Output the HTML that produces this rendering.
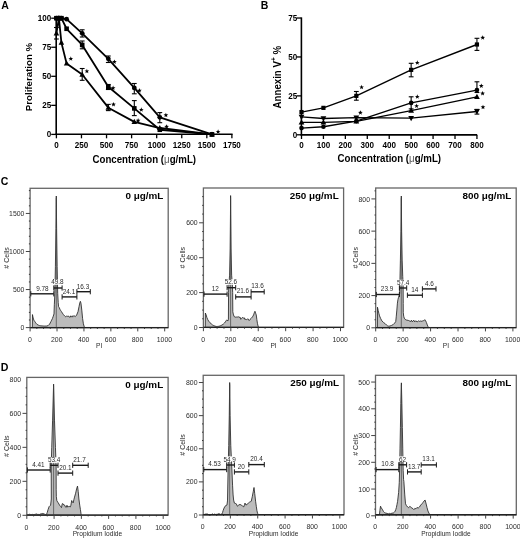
<!DOCTYPE html>
<html><head><meta charset="utf-8"><style>
html,body{margin:0;padding:0;background:#fff;width:520px;height:538px;overflow:hidden}
svg{display:block;filter:blur(0.3px);font-family:"Liberation Sans", sans-serif}
</style></head><body>
<svg width="520" height="538" viewBox="0 0 520 538">
<rect width="520" height="538" fill="#fff"/>
<text x="1.2" y="9.2" font-size="10.5" font-weight="bold" text-anchor="start" fill="#000">A</text>
<line x1="56.2" y1="17.6" x2="56.2" y2="135" stroke="#000" stroke-width="1.6"/>
<line x1="55.4" y1="134.2" x2="232.6" y2="134.2" stroke="#000" stroke-width="1.6"/>
<line x1="51.2" y1="134.4" x2="56.2" y2="134.4" stroke="#000" stroke-width="1.3"/>
<text x="51.3" y="137.2" font-size="8.1" font-weight="bold" text-anchor="end" fill="#000" transform="translate(0 137.2) scale(1 1.12) translate(0 -137.2)">0</text>
<line x1="51.2" y1="105.35" x2="56.2" y2="105.35" stroke="#000" stroke-width="1.3"/>
<text x="51.3" y="108.15" font-size="8.1" font-weight="bold" text-anchor="end" fill="#000" transform="translate(0 108.15) scale(1 1.12) translate(0 -108.15)">25</text>
<line x1="51.2" y1="76.3" x2="56.2" y2="76.3" stroke="#000" stroke-width="1.3"/>
<text x="51.3" y="79.1" font-size="8.1" font-weight="bold" text-anchor="end" fill="#000" transform="translate(0 79.1) scale(1 1.12) translate(0 -79.1)">50</text>
<line x1="51.2" y1="47.25" x2="56.2" y2="47.25" stroke="#000" stroke-width="1.3"/>
<text x="51.3" y="50.05" font-size="8.1" font-weight="bold" text-anchor="end" fill="#000" transform="translate(0 50.05) scale(1 1.12) translate(0 -50.05)">75</text>
<line x1="51.2" y1="18.2" x2="56.2" y2="18.2" stroke="#000" stroke-width="1.3"/>
<text x="51.3" y="21" font-size="8.1" font-weight="bold" text-anchor="end" fill="#000" transform="translate(0 21) scale(1 1.12) translate(0 -21)">100</text>
<line x1="56.4" y1="134.2" x2="56.4" y2="138.3" stroke="#000" stroke-width="1.3"/>
<text x="56.4" y="147.7" font-size="8.1" font-weight="bold" text-anchor="middle" fill="#000" transform="translate(0 147.7) scale(1 1.12) translate(0 -147.7)">0</text>
<line x1="81.47" y1="134.2" x2="81.47" y2="138.3" stroke="#000" stroke-width="1.3"/>
<text x="81.47" y="147.7" font-size="8.1" font-weight="bold" text-anchor="middle" fill="#000" transform="translate(0 147.7) scale(1 1.12) translate(0 -147.7)">250</text>
<line x1="106.54" y1="134.2" x2="106.54" y2="138.3" stroke="#000" stroke-width="1.3"/>
<text x="106.54" y="147.7" font-size="8.1" font-weight="bold" text-anchor="middle" fill="#000" transform="translate(0 147.7) scale(1 1.12) translate(0 -147.7)">500</text>
<line x1="131.61" y1="134.2" x2="131.61" y2="138.3" stroke="#000" stroke-width="1.3"/>
<text x="131.61" y="147.7" font-size="8.1" font-weight="bold" text-anchor="middle" fill="#000" transform="translate(0 147.7) scale(1 1.12) translate(0 -147.7)">750</text>
<line x1="156.68" y1="134.2" x2="156.68" y2="138.3" stroke="#000" stroke-width="1.3"/>
<text x="156.68" y="147.7" font-size="8.1" font-weight="bold" text-anchor="middle" fill="#000" transform="translate(0 147.7) scale(1 1.12) translate(0 -147.7)">1000</text>
<line x1="181.75" y1="134.2" x2="181.75" y2="138.3" stroke="#000" stroke-width="1.3"/>
<text x="181.75" y="147.7" font-size="8.1" font-weight="bold" text-anchor="middle" fill="#000" transform="translate(0 147.7) scale(1 1.12) translate(0 -147.7)">1250</text>
<line x1="206.82" y1="134.2" x2="206.82" y2="138.3" stroke="#000" stroke-width="1.3"/>
<text x="206.82" y="147.7" font-size="8.1" font-weight="bold" text-anchor="middle" fill="#000" transform="translate(0 147.7) scale(1 1.12) translate(0 -147.7)">1500</text>
<line x1="231.89" y1="134.2" x2="231.89" y2="138.3" stroke="#000" stroke-width="1.3"/>
<text x="231.89" y="147.7" font-size="8.1" font-weight="bold" text-anchor="middle" fill="#000" transform="translate(0 147.7) scale(1 1.12) translate(0 -147.7)">1750</text>
<text x="144.3" y="162.9" font-size="9.7" font-weight="bold" text-anchor="middle" fill="#000" transform="translate(0 162.9) scale(1 1.07) translate(0 -162.9)">Concentration (<tspan font-weight="normal" fill="#555">μ</tspan>g/mL)</text>
<text x="32.3" y="77" font-size="9.7" font-weight="bold" text-anchor="middle" fill="#000" transform="rotate(-90 32.3 77)">Proliferation %</text>
<polyline points="56.4,18.2 58.9,18.2 61.4,18.2 66.6,19.13 82.2,33.31 108.3,58.87 134.3,87.92 159.8,117.32 212,134.4" fill="none" stroke="#000" stroke-width="1.8" stroke-linejoin="round"/>
<circle cx="56.4" cy="18.2" r="2.42" fill="#000"/>
<circle cx="58.9" cy="18.2" r="2.42" fill="#000"/>
<circle cx="61.4" cy="18.2" r="2.42" fill="#000"/>
<circle cx="66.6" cy="19.13" r="2.42" fill="#000"/>
<circle cx="82.2" cy="33.31" r="2.42" fill="#000"/>
<circle cx="108.3" cy="58.87" r="2.42" fill="#000"/>
<circle cx="134.3" cy="87.92" r="2.42" fill="#000"/>
<circle cx="159.8" cy="117.32" r="2.42" fill="#000"/>
<circle cx="212" cy="134.4" r="2.42" fill="#000"/>
<polyline points="56.4,18.2 58.9,18.2 61.4,18.2 66.6,28.77 82.2,44.93 108.3,86.76 134.3,108.37 159.8,129.75 212,134.4" fill="none" stroke="#000" stroke-width="1.8" stroke-linejoin="round"/>
<rect x="54.1" y="15.9" width="4.6" height="4.6" fill="#000"/>
<rect x="56.6" y="15.9" width="4.6" height="4.6" fill="#000"/>
<rect x="59.1" y="15.9" width="4.6" height="4.6" fill="#000"/>
<rect x="64.3" y="26.47" width="4.6" height="4.6" fill="#000"/>
<rect x="79.9" y="42.63" width="4.6" height="4.6" fill="#000"/>
<rect x="106" y="84.46" width="4.6" height="4.6" fill="#000"/>
<rect x="132" y="106.07" width="4.6" height="4.6" fill="#000"/>
<rect x="157.5" y="127.45" width="4.6" height="4.6" fill="#000"/>
<rect x="209.7" y="132.1" width="4.6" height="4.6" fill="#000"/>
<polyline points="56.4,33.31 58.9,18.2 61.4,42.6 66.6,63.52 82.2,74.56 108.3,107.67 134.3,121.85 159.8,128.01 212,134.4" fill="none" stroke="#000" stroke-width="1.8" stroke-linejoin="round"/>
<polygon points="56.4,30.32 53.64,35.38 59.16,35.38" fill="#000"/>
<polygon points="58.9,15.21 56.14,20.27 61.66,20.27" fill="#000"/>
<polygon points="61.4,39.61 58.64,44.67 64.16,44.67" fill="#000"/>
<polygon points="66.6,60.53 63.84,65.59 69.36,65.59" fill="#000"/>
<polygon points="82.2,71.57 79.44,76.63 84.96,76.63" fill="#000"/>
<polygon points="108.3,104.68 105.54,109.74 111.06,109.74" fill="#000"/>
<polygon points="134.3,118.86 131.54,123.92 137.06,123.92" fill="#000"/>
<polygon points="159.8,125.02 157.04,130.08 162.56,130.08" fill="#000"/>
<polygon points="212,131.41 209.24,136.47 214.76,136.47" fill="#000"/>
<line x1="82.2" y1="29.8" x2="82.2" y2="37" stroke="#000" stroke-width="1.1"/>
<line x1="79.8" y1="29.8" x2="84.6" y2="29.8" stroke="#000" stroke-width="1.1"/>
<line x1="79.8" y1="37" x2="84.6" y2="37" stroke="#000" stroke-width="1.1"/>
<line x1="108.3" y1="56" x2="108.3" y2="62.5" stroke="#000" stroke-width="1.1"/>
<line x1="105.9" y1="56" x2="110.7" y2="56" stroke="#000" stroke-width="1.1"/>
<line x1="105.9" y1="62.5" x2="110.7" y2="62.5" stroke="#000" stroke-width="1.1"/>
<line x1="134.3" y1="83.5" x2="134.3" y2="93.8" stroke="#000" stroke-width="1.1"/>
<line x1="131.9" y1="83.5" x2="136.7" y2="83.5" stroke="#000" stroke-width="1.1"/>
<line x1="131.9" y1="93.8" x2="136.7" y2="93.8" stroke="#000" stroke-width="1.1"/>
<line x1="159.8" y1="112.6" x2="159.8" y2="122.7" stroke="#000" stroke-width="1.1"/>
<line x1="157.4" y1="112.6" x2="162.2" y2="112.6" stroke="#000" stroke-width="1.1"/>
<line x1="157.4" y1="122.7" x2="162.2" y2="122.7" stroke="#000" stroke-width="1.1"/>
<line x1="82.2" y1="41" x2="82.2" y2="48.8" stroke="#000" stroke-width="1.1"/>
<line x1="79.8" y1="41" x2="84.6" y2="41" stroke="#000" stroke-width="1.1"/>
<line x1="79.8" y1="48.8" x2="84.6" y2="48.8" stroke="#000" stroke-width="1.1"/>
<line x1="134.3" y1="100.6" x2="134.3" y2="115.6" stroke="#000" stroke-width="1.1"/>
<line x1="131.9" y1="100.6" x2="136.7" y2="100.6" stroke="#000" stroke-width="1.1"/>
<line x1="131.9" y1="115.6" x2="136.7" y2="115.6" stroke="#000" stroke-width="1.1"/>
<line x1="108.3" y1="84.5" x2="108.3" y2="89.5" stroke="#000" stroke-width="1.1"/>
<line x1="105.9" y1="84.5" x2="110.7" y2="84.5" stroke="#000" stroke-width="1.1"/>
<line x1="105.9" y1="89.5" x2="110.7" y2="89.5" stroke="#000" stroke-width="1.1"/>
<line x1="82.2" y1="68.5" x2="82.2" y2="80.3" stroke="#000" stroke-width="1.1"/>
<line x1="79.8" y1="68.5" x2="84.6" y2="68.5" stroke="#000" stroke-width="1.1"/>
<line x1="79.8" y1="80.3" x2="84.6" y2="80.3" stroke="#000" stroke-width="1.1"/>
<line x1="108.3" y1="104.4" x2="108.3" y2="110.6" stroke="#000" stroke-width="1.1"/>
<line x1="105.9" y1="104.4" x2="110.7" y2="104.4" stroke="#000" stroke-width="1.1"/>
<line x1="105.9" y1="110.6" x2="110.7" y2="110.6" stroke="#000" stroke-width="1.1"/>
<line x1="56.4" y1="27.5" x2="56.4" y2="39" stroke="#000" stroke-width="1.1"/>
<line x1="54" y1="27.5" x2="58.8" y2="27.5" stroke="#000" stroke-width="1.1"/>
<line x1="54" y1="39" x2="58.8" y2="39" stroke="#000" stroke-width="1.1"/>
<polygon points="114.4,59.4 115.02,61.05 116.78,61.13 115.4,62.22 115.87,63.92 114.4,62.95 112.93,63.92 113.4,62.22 112.02,61.13 113.78,61.05" fill="#000"/>
<polygon points="139.4,88.1 140.02,89.75 141.78,89.83 140.4,90.92 140.87,92.62 139.4,91.65 137.93,92.62 138.4,90.92 137.02,89.83 138.78,89.75" fill="#000"/>
<polygon points="165.9,112.7 166.52,114.35 168.28,114.43 166.9,115.52 167.37,117.22 165.9,116.25 164.43,117.22 164.9,115.52 163.52,114.43 165.28,114.35" fill="#000"/>
<polygon points="218.1,129.3 218.72,130.95 220.48,131.03 219.1,132.12 219.57,133.82 218.1,132.85 216.63,133.82 217.1,132.12 215.72,131.03 217.48,130.95" fill="#000"/>
<polygon points="113.1,85.6 113.72,87.25 115.48,87.33 114.1,88.42 114.57,90.12 113.1,89.15 111.63,90.12 112.1,88.42 110.72,87.33 112.48,87.25" fill="#000"/>
<polygon points="141.3,107.3 141.92,108.95 143.68,109.03 142.3,110.12 142.77,111.82 141.3,110.85 139.83,111.82 140.3,110.12 138.92,109.03 140.68,108.95" fill="#000"/>
<polygon points="70.8,56.3 71.42,57.95 73.18,58.03 71.8,59.12 72.27,60.82 70.8,59.85 69.33,60.82 69.8,59.12 68.42,58.03 70.18,57.95" fill="#000"/>
<polygon points="86.9,68.8 87.52,70.45 89.28,70.53 87.9,71.62 88.37,73.32 86.9,72.35 85.43,73.32 85.9,71.62 84.52,70.53 86.28,70.45" fill="#000"/>
<polygon points="113.5,101.9 114.12,103.55 115.88,103.63 114.5,104.72 114.97,106.42 113.5,105.45 112.03,106.42 112.5,104.72 111.12,103.63 112.88,103.55" fill="#000"/>
<polygon points="138.1,118.1 138.72,119.75 140.48,119.83 139.1,120.92 139.57,122.62 138.1,121.65 136.63,122.62 137.1,120.92 135.72,119.83 137.48,119.75" fill="#000"/>
<polygon points="166.6,124.2 167.22,125.85 168.98,125.93 167.6,127.02 168.07,128.72 166.6,127.75 165.13,128.72 165.6,127.02 164.22,125.93 165.98,125.85" fill="#000"/>
<text x="260.7" y="9.2" font-size="10.5" font-weight="bold" text-anchor="start" fill="#000">B</text>
<line x1="301.4" y1="17.4" x2="301.4" y2="135.5" stroke="#000" stroke-width="1.6"/>
<line x1="300.6" y1="134.9" x2="477.2" y2="134.9" stroke="#000" stroke-width="1.6"/>
<line x1="296.6" y1="134.8" x2="301.4" y2="134.8" stroke="#000" stroke-width="1.3"/>
<text x="297.2" y="137.6" font-size="8.1" font-weight="bold" text-anchor="end" fill="#000" transform="translate(0 137.6) scale(1 1.12) translate(0 -137.6)">0</text>
<line x1="296.6" y1="95.88" x2="301.4" y2="95.88" stroke="#000" stroke-width="1.3"/>
<text x="297.2" y="98.68" font-size="8.1" font-weight="bold" text-anchor="end" fill="#000" transform="translate(0 98.68) scale(1 1.12) translate(0 -98.68)">25</text>
<line x1="296.6" y1="56.95" x2="301.4" y2="56.95" stroke="#000" stroke-width="1.3"/>
<text x="297.2" y="59.75" font-size="8.1" font-weight="bold" text-anchor="end" fill="#000" transform="translate(0 59.75) scale(1 1.12) translate(0 -59.75)">50</text>
<line x1="296.6" y1="18.03" x2="301.4" y2="18.03" stroke="#000" stroke-width="1.3"/>
<text x="297.2" y="20.83" font-size="8.1" font-weight="bold" text-anchor="end" fill="#000" transform="translate(0 20.83) scale(1 1.12) translate(0 -20.83)">75</text>
<line x1="301.5" y1="134.9" x2="301.5" y2="139" stroke="#000" stroke-width="1.3"/>
<text x="301.5" y="148" font-size="8.1" font-weight="bold" text-anchor="middle" fill="#000" transform="translate(0 148) scale(1 1.12) translate(0 -148)">0</text>
<line x1="323.43" y1="134.9" x2="323.43" y2="139" stroke="#000" stroke-width="1.3"/>
<text x="323.43" y="148" font-size="8.1" font-weight="bold" text-anchor="middle" fill="#000" transform="translate(0 148) scale(1 1.12) translate(0 -148)">100</text>
<line x1="345.36" y1="134.9" x2="345.36" y2="139" stroke="#000" stroke-width="1.3"/>
<text x="345.36" y="148" font-size="8.1" font-weight="bold" text-anchor="middle" fill="#000" transform="translate(0 148) scale(1 1.12) translate(0 -148)">200</text>
<line x1="367.29" y1="134.9" x2="367.29" y2="139" stroke="#000" stroke-width="1.3"/>
<text x="367.29" y="148" font-size="8.1" font-weight="bold" text-anchor="middle" fill="#000" transform="translate(0 148) scale(1 1.12) translate(0 -148)">300</text>
<line x1="389.22" y1="134.9" x2="389.22" y2="139" stroke="#000" stroke-width="1.3"/>
<text x="389.22" y="148" font-size="8.1" font-weight="bold" text-anchor="middle" fill="#000" transform="translate(0 148) scale(1 1.12) translate(0 -148)">400</text>
<line x1="411.15" y1="134.9" x2="411.15" y2="139" stroke="#000" stroke-width="1.3"/>
<text x="411.15" y="148" font-size="8.1" font-weight="bold" text-anchor="middle" fill="#000" transform="translate(0 148) scale(1 1.12) translate(0 -148)">500</text>
<line x1="433.08" y1="134.9" x2="433.08" y2="139" stroke="#000" stroke-width="1.3"/>
<text x="433.08" y="148" font-size="8.1" font-weight="bold" text-anchor="middle" fill="#000" transform="translate(0 148) scale(1 1.12) translate(0 -148)">600</text>
<line x1="455.01" y1="134.9" x2="455.01" y2="139" stroke="#000" stroke-width="1.3"/>
<text x="455.01" y="148" font-size="8.1" font-weight="bold" text-anchor="middle" fill="#000" transform="translate(0 148) scale(1 1.12) translate(0 -148)">700</text>
<line x1="476.94" y1="134.9" x2="476.94" y2="139" stroke="#000" stroke-width="1.3"/>
<text x="476.94" y="148" font-size="8.1" font-weight="bold" text-anchor="middle" fill="#000" transform="translate(0 148) scale(1 1.12) translate(0 -148)">800</text>
<text x="389.3" y="161.8" font-size="9.7" font-weight="bold" text-anchor="middle" fill="#000" transform="translate(0 161.8) scale(1 1.07) translate(0 -161.8)">Concentration (<tspan font-weight="normal" fill="#555">μ</tspan>g/mL)</text>
<text x="280.9" y="77.2" font-size="10.2" font-weight="bold" text-anchor="middle" fill="#000" transform="translate(280.9 77.2) rotate(-90) scale(0.95 1) translate(-280.9 -77.2)">Annexin V<tspan font-size="6.8" dy="-4.6">+</tspan><tspan dy="4.6"> %</tspan></text>
<polyline points="301.5,116.89 323.43,118.45 356.32,117.67 411.15,118.14 476.94,111.45" fill="none" stroke="#000" stroke-width="1.4" stroke-linejoin="round"/>
<polygon points="301.5,120.01 298.62,114.73 304.38,114.73" fill="#000"/>
<polygon points="323.43,121.57 320.55,116.29 326.31,116.29" fill="#000"/>
<polygon points="356.32,120.79 353.44,115.51 359.2,115.51" fill="#000"/>
<polygon points="411.15,121.26 408.27,115.98 414.03,115.98" fill="#000"/>
<polygon points="476.94,114.57 474.06,109.29 479.82,109.29" fill="#000"/>
<polyline points="301.5,122.34 323.43,122.34 356.32,121.41 411.15,110.67 476.94,96.81" fill="none" stroke="#000" stroke-width="1.4" stroke-linejoin="round"/>
<polygon points="301.5,119.22 298.62,124.5 304.38,124.5" fill="#000"/>
<polygon points="323.43,119.22 320.55,124.5 326.31,124.5" fill="#000"/>
<polygon points="356.32,118.29 353.44,123.57 359.2,123.57" fill="#000"/>
<polygon points="411.15,107.55 408.27,112.83 414.03,112.83" fill="#000"/>
<polygon points="476.94,93.69 474.06,98.97 479.82,98.97" fill="#000"/>
<polyline points="301.5,128.1 323.43,126.7 356.32,121.1 411.15,102.88 476.94,90.11" fill="none" stroke="#000" stroke-width="1.4" stroke-linejoin="round"/>
<circle cx="301.5" cy="128.1" r="2.31" fill="#000"/>
<circle cx="323.43" cy="126.7" r="2.31" fill="#000"/>
<circle cx="356.32" cy="121.1" r="2.31" fill="#000"/>
<circle cx="411.15" cy="102.88" r="2.31" fill="#000"/>
<circle cx="476.94" cy="90.11" r="2.31" fill="#000"/>
<polyline points="301.5,112.07 323.43,107.86 356.32,95.88 411.15,69.87 476.94,44.49" fill="none" stroke="#000" stroke-width="1.4" stroke-linejoin="round"/>
<rect x="299.4" y="109.97" width="4.2" height="4.2" fill="#000"/>
<rect x="321.33" y="105.76" width="4.2" height="4.2" fill="#000"/>
<rect x="354.22" y="93.78" width="4.2" height="4.2" fill="#000"/>
<rect x="409.05" y="67.77" width="4.2" height="4.2" fill="#000"/>
<rect x="474.84" y="42.39" width="4.2" height="4.2" fill="#000"/>
<line x1="356.32" y1="91.5" x2="356.32" y2="100.2" stroke="#000" stroke-width="1.1"/>
<line x1="353.93" y1="91.5" x2="358.72" y2="91.5" stroke="#000" stroke-width="1.1"/>
<line x1="353.93" y1="100.2" x2="358.72" y2="100.2" stroke="#000" stroke-width="1.1"/>
<line x1="411.15" y1="63.3" x2="411.15" y2="76.8" stroke="#000" stroke-width="1.1"/>
<line x1="408.75" y1="63.3" x2="413.55" y2="63.3" stroke="#000" stroke-width="1.1"/>
<line x1="408.75" y1="76.8" x2="413.55" y2="76.8" stroke="#000" stroke-width="1.1"/>
<line x1="476.94" y1="38.3" x2="476.94" y2="50.4" stroke="#000" stroke-width="1.1"/>
<line x1="474.54" y1="38.3" x2="479.34" y2="38.3" stroke="#000" stroke-width="1.1"/>
<line x1="474.54" y1="50.4" x2="479.34" y2="50.4" stroke="#000" stroke-width="1.1"/>
<line x1="411.15" y1="96.8" x2="411.15" y2="108.9" stroke="#000" stroke-width="1.1"/>
<line x1="408.75" y1="96.8" x2="413.55" y2="96.8" stroke="#000" stroke-width="1.1"/>
<line x1="408.75" y1="108.9" x2="413.55" y2="108.9" stroke="#000" stroke-width="1.1"/>
<line x1="476.94" y1="81.8" x2="476.94" y2="92.5" stroke="#000" stroke-width="1.1"/>
<line x1="474.54" y1="81.8" x2="479.34" y2="81.8" stroke="#000" stroke-width="1.1"/>
<line x1="474.54" y1="92.5" x2="479.34" y2="92.5" stroke="#000" stroke-width="1.1"/>
<line x1="476.94" y1="109.4" x2="476.94" y2="114.1" stroke="#000" stroke-width="1.1"/>
<line x1="474.54" y1="109.4" x2="479.34" y2="109.4" stroke="#000" stroke-width="1.1"/>
<line x1="474.54" y1="114.1" x2="479.34" y2="114.1" stroke="#000" stroke-width="1.1"/>
<polygon points="361.6,84.8 362.22,86.45 363.98,86.53 362.6,87.62 363.07,89.32 361.6,88.35 360.13,89.32 360.6,87.62 359.22,86.53 360.98,86.45" fill="#000"/>
<polygon points="417.3,60.3 417.92,61.95 419.68,62.03 418.3,63.12 418.77,64.82 417.3,63.85 415.83,64.82 416.3,63.12 414.92,62.03 416.68,61.95" fill="#000"/>
<polygon points="482.7,35.2 483.32,36.85 485.08,36.93 483.7,38.02 484.17,39.72 482.7,38.75 481.23,39.72 481.7,38.02 480.32,36.93 482.08,36.85" fill="#000"/>
<polygon points="417.3,94.3 417.92,95.95 419.68,96.03 418.3,97.12 418.77,98.82 417.3,97.85 415.83,98.82 416.3,97.12 414.92,96.03 416.68,95.95" fill="#000"/>
<polygon points="481.3,83.4 481.92,85.05 483.68,85.13 482.3,86.22 482.77,87.92 481.3,86.95 479.83,87.92 480.3,86.22 478.92,85.13 480.68,85.05" fill="#000"/>
<polygon points="416.6,103.5 417.22,105.15 418.98,105.23 417.6,106.32 418.07,108.02 416.6,107.05 415.13,108.02 415.6,106.32 414.22,105.23 415.98,105.15" fill="#000"/>
<polygon points="482.6,90.9 483.22,92.55 484.98,92.63 483.6,93.72 484.07,95.42 482.6,94.45 481.13,95.42 481.6,93.72 480.22,92.63 481.98,92.55" fill="#000"/>
<polygon points="483,104.7 483.62,106.35 485.38,106.43 484,107.52 484.47,109.22 483,108.25 481.53,109.22 482,107.52 480.62,106.43 482.38,106.35" fill="#000"/>
<polygon points="360.4,110.2 361.02,111.85 362.78,111.93 361.4,113.02 361.87,114.72 360.4,113.75 358.93,114.72 359.4,113.02 358.02,111.93 359.78,111.85" fill="#000"/>
<polygon points="32.32,327.6 32.32,327.6 32.46,314.59 32.93,316.95 33.47,319.08 34.14,320.6 34.81,321.51 35.35,322.27 36.1,323.34 37.1,324.4 38.45,325.16 39.52,325.62 40.87,325.85 43.1,326 44.91,326.08 46.92,326 48.27,325.47 49.62,324.1 50.96,321.51 51.64,320.14 52.44,318.47 53.25,316.19 53.99,313.9 54.33,304.77 54.87,293.36 55.4,266.72 55.94,228.67 56.29,196.02 56.62,228.67 57.15,266.72 57.69,293.36 58.2,302.49 58.59,306.67 59.17,307.43 59.98,309.34 60.79,310.71 61.39,311.47 62.4,313.14 63.48,314.66 64.89,316.19 65.64,316.69 66.38,316.16 67.13,316.5 67.87,316.1 68.62,316.09 69.36,317.14 70.11,317.26 70.85,315.79 71.6,316.87 72.35,316.94 73.09,315.58 73.84,316.57 74.58,315.92 75.33,316.57 76.67,315.04 78.02,311.62 79.09,306.29 79.9,302.49 80.4,301.35 80.98,303.25 81.79,310.1 82.59,318.47 83.4,323.8 84.48,327.6 84.48,327.6" fill="#bcbcbc" stroke="#262626" stroke-width="0.85" stroke-linejoin="round"/>
<line x1="56.29" y1="198.02" x2="56.29" y2="327.6" stroke="#444" stroke-width="0.7"/>
<rect x="30.1" y="188.3" width="138.1" height="139.3" fill="none" stroke="#666" stroke-width="1.3"/>
<line x1="30.1" y1="327.6" x2="168.2" y2="327.6" stroke="#222" stroke-width="1.4"/>
<line x1="25.8" y1="327.6" x2="30.1" y2="327.6" stroke="#444" stroke-width="1.0"/>
<text x="24.4" y="330.2" font-size="6.9" font-weight="normal" text-anchor="end" fill="#2b2b2b">0</text>
<line x1="28.9" y1="319.99" x2="30.1" y2="319.99" stroke="#333" stroke-width="1.0"/>
<line x1="28.9" y1="312.38" x2="30.1" y2="312.38" stroke="#333" stroke-width="1.0"/>
<line x1="28.9" y1="304.77" x2="30.1" y2="304.77" stroke="#333" stroke-width="1.0"/>
<line x1="28.9" y1="297.16" x2="30.1" y2="297.16" stroke="#333" stroke-width="1.0"/>
<line x1="25.8" y1="289.55" x2="30.1" y2="289.55" stroke="#444" stroke-width="1.0"/>
<text x="24.4" y="292.15" font-size="6.9" font-weight="normal" text-anchor="end" fill="#2b2b2b">500</text>
<line x1="28.9" y1="281.94" x2="30.1" y2="281.94" stroke="#333" stroke-width="1.0"/>
<line x1="28.9" y1="274.33" x2="30.1" y2="274.33" stroke="#333" stroke-width="1.0"/>
<line x1="28.9" y1="266.72" x2="30.1" y2="266.72" stroke="#333" stroke-width="1.0"/>
<line x1="28.9" y1="259.11" x2="30.1" y2="259.11" stroke="#333" stroke-width="1.0"/>
<line x1="25.8" y1="251.5" x2="30.1" y2="251.5" stroke="#444" stroke-width="1.0"/>
<text x="24.4" y="254.1" font-size="6.9" font-weight="normal" text-anchor="end" fill="#2b2b2b">1000</text>
<line x1="28.9" y1="243.89" x2="30.1" y2="243.89" stroke="#333" stroke-width="1.0"/>
<line x1="28.9" y1="236.28" x2="30.1" y2="236.28" stroke="#333" stroke-width="1.0"/>
<line x1="28.9" y1="228.67" x2="30.1" y2="228.67" stroke="#333" stroke-width="1.0"/>
<line x1="28.9" y1="221.06" x2="30.1" y2="221.06" stroke="#333" stroke-width="1.0"/>
<line x1="25.8" y1="213.45" x2="30.1" y2="213.45" stroke="#444" stroke-width="1.0"/>
<text x="24.4" y="216.05" font-size="6.9" font-weight="normal" text-anchor="end" fill="#2b2b2b">1500</text>
<line x1="28.9" y1="205.84" x2="30.1" y2="205.84" stroke="#333" stroke-width="1.0"/>
<line x1="28.9" y1="198.23" x2="30.1" y2="198.23" stroke="#333" stroke-width="1.0"/>
<line x1="28.9" y1="190.62" x2="30.1" y2="190.62" stroke="#333" stroke-width="1.0"/>
<line x1="30.1" y1="327.6" x2="30.1" y2="331.4" stroke="#444" stroke-width="1.0"/>
<text x="29.8" y="342.1" font-size="6.9" font-weight="normal" text-anchor="middle" fill="#2b2b2b">0</text>
<line x1="36.83" y1="327.6" x2="36.83" y2="328.9" stroke="#333" stroke-width="1.0"/>
<line x1="43.56" y1="327.6" x2="43.56" y2="328.9" stroke="#333" stroke-width="1.0"/>
<line x1="50.29" y1="327.6" x2="50.29" y2="328.9" stroke="#333" stroke-width="1.0"/>
<line x1="57.02" y1="327.6" x2="57.02" y2="331.4" stroke="#444" stroke-width="1.0"/>
<text x="56.72" y="342.1" font-size="6.9" font-weight="normal" text-anchor="middle" fill="#2b2b2b">200</text>
<line x1="63.75" y1="327.6" x2="63.75" y2="328.9" stroke="#333" stroke-width="1.0"/>
<line x1="70.48" y1="327.6" x2="70.48" y2="328.9" stroke="#333" stroke-width="1.0"/>
<line x1="77.21" y1="327.6" x2="77.21" y2="328.9" stroke="#333" stroke-width="1.0"/>
<line x1="83.94" y1="327.6" x2="83.94" y2="331.4" stroke="#444" stroke-width="1.0"/>
<text x="83.64" y="342.1" font-size="6.9" font-weight="normal" text-anchor="middle" fill="#2b2b2b">400</text>
<line x1="90.67" y1="327.6" x2="90.67" y2="328.9" stroke="#333" stroke-width="1.0"/>
<line x1="97.4" y1="327.6" x2="97.4" y2="328.9" stroke="#333" stroke-width="1.0"/>
<line x1="104.13" y1="327.6" x2="104.13" y2="328.9" stroke="#333" stroke-width="1.0"/>
<line x1="110.86" y1="327.6" x2="110.86" y2="331.4" stroke="#444" stroke-width="1.0"/>
<text x="110.56" y="342.1" font-size="6.9" font-weight="normal" text-anchor="middle" fill="#2b2b2b">600</text>
<line x1="117.59" y1="327.6" x2="117.59" y2="328.9" stroke="#333" stroke-width="1.0"/>
<line x1="124.32" y1="327.6" x2="124.32" y2="328.9" stroke="#333" stroke-width="1.0"/>
<line x1="131.05" y1="327.6" x2="131.05" y2="328.9" stroke="#333" stroke-width="1.0"/>
<line x1="137.78" y1="327.6" x2="137.78" y2="331.4" stroke="#444" stroke-width="1.0"/>
<text x="137.48" y="342.1" font-size="6.9" font-weight="normal" text-anchor="middle" fill="#2b2b2b">800</text>
<line x1="144.51" y1="327.6" x2="144.51" y2="328.9" stroke="#333" stroke-width="1.0"/>
<line x1="151.24" y1="327.6" x2="151.24" y2="328.9" stroke="#333" stroke-width="1.0"/>
<line x1="157.97" y1="327.6" x2="157.97" y2="328.9" stroke="#333" stroke-width="1.0"/>
<line x1="164.7" y1="327.6" x2="164.7" y2="331.4" stroke="#444" stroke-width="1.0"/>
<text x="164.4" y="342.1" font-size="6.9" font-weight="normal" text-anchor="middle" fill="#2b2b2b">1000</text>
<rect x="35.77" y="285.5" width="13.26" height="5.6" fill="#fff"/>
<rect x="50.77" y="279.2" width="13.26" height="5.6" fill="#fff"/>
<rect x="62.37" y="288.4" width="13.26" height="5.6" fill="#fff"/>
<rect x="76.37" y="283.6" width="13.26" height="5.6" fill="#fff"/>
<line x1="30.8" y1="293.8" x2="53.8" y2="293.8" stroke="#1a1a1a" stroke-width="1.4"/>
<line x1="30.8" y1="291.2" x2="30.8" y2="296.4" stroke="#1a1a1a" stroke-width="1.0"/>
<line x1="53.8" y1="291.2" x2="53.8" y2="296.4" stroke="#1a1a1a" stroke-width="1.0"/>
<text x="42.4" y="290.6" font-size="6.4" font-weight="normal" text-anchor="middle" fill="#2b2b2b">9.78</text>
<line x1="53.8" y1="288" x2="62.1" y2="288" stroke="#1a1a1a" stroke-width="1.4"/>
<line x1="53.8" y1="285.4" x2="53.8" y2="290.6" stroke="#1a1a1a" stroke-width="1.0"/>
<line x1="62.1" y1="285.4" x2="62.1" y2="290.6" stroke="#1a1a1a" stroke-width="1.0"/>
<text x="57.4" y="284.3" font-size="6.4" font-weight="normal" text-anchor="middle" fill="#2b2b2b">49.8</text>
<line x1="62.1" y1="296.9" x2="76.9" y2="296.9" stroke="#1a1a1a" stroke-width="1.4"/>
<line x1="62.1" y1="294.3" x2="62.1" y2="299.5" stroke="#1a1a1a" stroke-width="1.0"/>
<line x1="76.9" y1="294.3" x2="76.9" y2="299.5" stroke="#1a1a1a" stroke-width="1.0"/>
<text x="69" y="293.5" font-size="6.4" font-weight="normal" text-anchor="middle" fill="#2b2b2b">24.1</text>
<line x1="76.9" y1="291.7" x2="90.3" y2="291.7" stroke="#1a1a1a" stroke-width="1.4"/>
<line x1="76.9" y1="289.1" x2="76.9" y2="294.3" stroke="#1a1a1a" stroke-width="1.0"/>
<line x1="90.3" y1="289.1" x2="90.3" y2="294.3" stroke="#1a1a1a" stroke-width="1.0"/>
<text x="83" y="288.7" font-size="6.4" font-weight="normal" text-anchor="middle" fill="#2b2b2b">16.3</text>
<text x="163.3" y="198.9" font-size="9.9" font-weight="bold" text-anchor="end" fill="#000">0 μg/mL</text>
<text x="8.9" y="257.95" font-size="7" font-weight="normal" text-anchor="middle" fill="#2b2b2b" transform="rotate(-90 8.9 257.95)"># Cells</text>
<text x="99.15" y="348.4" font-size="6.6" font-weight="normal" text-anchor="middle" fill="#2b2b2b">PI</text>
<polygon points="205.25,327.4 205.25,327.4 205.39,313.02 206.14,314.94 206.9,317.55 207.79,319.65 208.75,321.22 209.84,322.61 211.21,323.75 212.45,324.88 213.75,325.58 214.92,326.1 216.25,326.45 217.38,326.45 218.76,326.28 220.13,325.93 221.91,325.06 223.28,324.18 224.38,323.14 225.34,321.92 226.25,320.52 226.9,319.82 227.75,321.04 228.42,319.65 228.56,292.6 228.9,283.88 229.59,275.15 230.13,248.98 230.48,214.07 230.6,195.58 230.75,214.07 231.09,248.98 231.64,275.15 232.33,283.88 232.67,292.6 232.81,311.8 233.49,314.94 234.25,316.68 235,317.03 235.84,317.2 236.67,317.02 237.5,317.01 238.34,316.76 239.17,317.37 240.01,317.05 240.84,319.34 241.67,318.39 242.51,317.34 243.34,318.18 244.18,317.68 245.01,319.72 245.84,318.97 246.68,319.63 247.51,319.02 248.35,319.06 249.18,320.55 250.01,319.47 251.11,318.43 252.48,316.86 253.58,314.94 254.26,312.84 254.95,311.27 255.64,313.19 256.25,314.94 256.87,319.65 257.5,323.75 258.1,326.1 258.75,327.4 258.75,327.4" fill="#bcbcbc" stroke="#262626" stroke-width="0.85" stroke-linejoin="round"/>
<line x1="230.6" y1="197.58" x2="230.6" y2="327.5" stroke="#444" stroke-width="0.7"/>
<rect x="203.4" y="188" width="140.2" height="139.4" fill="none" stroke="#666" stroke-width="1.3"/>
<line x1="203.4" y1="327.4" x2="343.6" y2="327.4" stroke="#222" stroke-width="1.4"/>
<line x1="199.1" y1="327.5" x2="203.4" y2="327.5" stroke="#444" stroke-width="1.0"/>
<text x="197.7" y="330.1" font-size="6.9" font-weight="normal" text-anchor="end" fill="#2b2b2b">0</text>
<line x1="202.2" y1="318.77" x2="203.4" y2="318.77" stroke="#333" stroke-width="1.0"/>
<line x1="202.2" y1="310.05" x2="203.4" y2="310.05" stroke="#333" stroke-width="1.0"/>
<line x1="202.2" y1="301.32" x2="203.4" y2="301.32" stroke="#333" stroke-width="1.0"/>
<line x1="199.1" y1="292.6" x2="203.4" y2="292.6" stroke="#444" stroke-width="1.0"/>
<text x="197.7" y="295.2" font-size="6.9" font-weight="normal" text-anchor="end" fill="#2b2b2b">200</text>
<line x1="202.2" y1="283.88" x2="203.4" y2="283.88" stroke="#333" stroke-width="1.0"/>
<line x1="202.2" y1="275.15" x2="203.4" y2="275.15" stroke="#333" stroke-width="1.0"/>
<line x1="202.2" y1="266.43" x2="203.4" y2="266.43" stroke="#333" stroke-width="1.0"/>
<line x1="199.1" y1="257.7" x2="203.4" y2="257.7" stroke="#444" stroke-width="1.0"/>
<text x="197.7" y="260.3" font-size="6.9" font-weight="normal" text-anchor="end" fill="#2b2b2b">400</text>
<line x1="202.2" y1="248.98" x2="203.4" y2="248.98" stroke="#333" stroke-width="1.0"/>
<line x1="202.2" y1="240.25" x2="203.4" y2="240.25" stroke="#333" stroke-width="1.0"/>
<line x1="202.2" y1="231.53" x2="203.4" y2="231.53" stroke="#333" stroke-width="1.0"/>
<line x1="199.1" y1="222.8" x2="203.4" y2="222.8" stroke="#444" stroke-width="1.0"/>
<text x="197.7" y="225.4" font-size="6.9" font-weight="normal" text-anchor="end" fill="#2b2b2b">600</text>
<line x1="202.2" y1="214.07" x2="203.4" y2="214.07" stroke="#333" stroke-width="1.0"/>
<line x1="202.2" y1="205.35" x2="203.4" y2="205.35" stroke="#333" stroke-width="1.0"/>
<line x1="202.2" y1="196.62" x2="203.4" y2="196.62" stroke="#333" stroke-width="1.0"/>
<line x1="203.4" y1="327.4" x2="203.4" y2="331.2" stroke="#444" stroke-width="1.0"/>
<text x="203.1" y="341.9" font-size="6.9" font-weight="normal" text-anchor="middle" fill="#2b2b2b">0</text>
<line x1="210.25" y1="327.4" x2="210.25" y2="328.7" stroke="#333" stroke-width="1.0"/>
<line x1="217.11" y1="327.4" x2="217.11" y2="328.7" stroke="#333" stroke-width="1.0"/>
<line x1="223.97" y1="327.4" x2="223.97" y2="328.7" stroke="#333" stroke-width="1.0"/>
<line x1="230.82" y1="327.4" x2="230.82" y2="331.2" stroke="#444" stroke-width="1.0"/>
<text x="230.52" y="341.9" font-size="6.9" font-weight="normal" text-anchor="middle" fill="#2b2b2b">200</text>
<line x1="237.68" y1="327.4" x2="237.68" y2="328.7" stroke="#333" stroke-width="1.0"/>
<line x1="244.53" y1="327.4" x2="244.53" y2="328.7" stroke="#333" stroke-width="1.0"/>
<line x1="251.38" y1="327.4" x2="251.38" y2="328.7" stroke="#333" stroke-width="1.0"/>
<line x1="258.24" y1="327.4" x2="258.24" y2="331.2" stroke="#444" stroke-width="1.0"/>
<text x="257.94" y="341.9" font-size="6.9" font-weight="normal" text-anchor="middle" fill="#2b2b2b">400</text>
<line x1="265.1" y1="327.4" x2="265.1" y2="328.7" stroke="#333" stroke-width="1.0"/>
<line x1="271.95" y1="327.4" x2="271.95" y2="328.7" stroke="#333" stroke-width="1.0"/>
<line x1="278.81" y1="327.4" x2="278.81" y2="328.7" stroke="#333" stroke-width="1.0"/>
<line x1="285.66" y1="327.4" x2="285.66" y2="331.2" stroke="#444" stroke-width="1.0"/>
<text x="285.36" y="341.9" font-size="6.9" font-weight="normal" text-anchor="middle" fill="#2b2b2b">600</text>
<line x1="292.51" y1="327.4" x2="292.51" y2="328.7" stroke="#333" stroke-width="1.0"/>
<line x1="299.37" y1="327.4" x2="299.37" y2="328.7" stroke="#333" stroke-width="1.0"/>
<line x1="306.23" y1="327.4" x2="306.23" y2="328.7" stroke="#333" stroke-width="1.0"/>
<line x1="313.08" y1="327.4" x2="313.08" y2="331.2" stroke="#444" stroke-width="1.0"/>
<text x="312.78" y="341.9" font-size="6.9" font-weight="normal" text-anchor="middle" fill="#2b2b2b">800</text>
<line x1="319.94" y1="327.4" x2="319.94" y2="328.7" stroke="#333" stroke-width="1.0"/>
<line x1="326.79" y1="327.4" x2="326.79" y2="328.7" stroke="#333" stroke-width="1.0"/>
<line x1="333.64" y1="327.4" x2="333.64" y2="328.7" stroke="#333" stroke-width="1.0"/>
<line x1="340.5" y1="327.4" x2="340.5" y2="331.2" stroke="#444" stroke-width="1.0"/>
<text x="340.2" y="341.9" font-size="6.9" font-weight="normal" text-anchor="middle" fill="#2b2b2b">1000</text>
<rect x="211.34" y="285.7" width="7.92" height="5.6" fill="#fff"/>
<rect x="224.27" y="279.2" width="13.26" height="5.6" fill="#fff"/>
<rect x="236.27" y="288.3" width="13.26" height="5.6" fill="#fff"/>
<rect x="250.87" y="283.2" width="13.26" height="5.6" fill="#fff"/>
<line x1="204" y1="294.1" x2="227.1" y2="294.1" stroke="#1a1a1a" stroke-width="1.4"/>
<line x1="204" y1="291.5" x2="204" y2="296.7" stroke="#1a1a1a" stroke-width="1.0"/>
<line x1="227.1" y1="291.5" x2="227.1" y2="296.7" stroke="#1a1a1a" stroke-width="1.0"/>
<text x="215.3" y="290.8" font-size="6.4" font-weight="normal" text-anchor="middle" fill="#2b2b2b">12</text>
<line x1="227.1" y1="287.7" x2="235.7" y2="287.7" stroke="#1a1a1a" stroke-width="1.4"/>
<line x1="227.1" y1="285.1" x2="227.1" y2="290.3" stroke="#1a1a1a" stroke-width="1.0"/>
<line x1="235.7" y1="285.1" x2="235.7" y2="290.3" stroke="#1a1a1a" stroke-width="1.0"/>
<text x="230.9" y="284.3" font-size="6.4" font-weight="normal" text-anchor="middle" fill="#2b2b2b">52.6</text>
<line x1="235.7" y1="296.9" x2="251.1" y2="296.9" stroke="#1a1a1a" stroke-width="1.4"/>
<line x1="235.7" y1="294.3" x2="235.7" y2="299.5" stroke="#1a1a1a" stroke-width="1.0"/>
<line x1="251.1" y1="294.3" x2="251.1" y2="299.5" stroke="#1a1a1a" stroke-width="1.0"/>
<text x="242.9" y="293.4" font-size="6.4" font-weight="normal" text-anchor="middle" fill="#2b2b2b">21.6</text>
<line x1="251.1" y1="291.8" x2="264.2" y2="291.8" stroke="#1a1a1a" stroke-width="1.4"/>
<line x1="251.1" y1="289.2" x2="251.1" y2="294.4" stroke="#1a1a1a" stroke-width="1.0"/>
<line x1="264.2" y1="289.2" x2="264.2" y2="294.4" stroke="#1a1a1a" stroke-width="1.0"/>
<text x="257.5" y="288.3" font-size="6.4" font-weight="normal" text-anchor="middle" fill="#2b2b2b">13.6</text>
<text x="338.7" y="198.6" font-size="9.9" font-weight="bold" text-anchor="end" fill="#000">250 μg/mL</text>
<text x="185.5" y="257.7" font-size="7" font-weight="normal" text-anchor="middle" fill="#2b2b2b" transform="rotate(-90 185.5 257.7)"># Cells</text>
<text x="273.5" y="348.2" font-size="6.6" font-weight="normal" text-anchor="middle" fill="#2b2b2b">PI</text>
<polygon points="377.41,327.6 377.41,327.6 377.48,307.18 378.17,310.4 378.86,313.3 379.54,315.88 380.64,318.46 381.87,320.87 383.52,322.48 385.3,323.77 386.4,324.9 387.64,325.87 388.73,326.19 389.97,326.03 391.62,325.38 393.4,324.42 394.63,323.13 395.73,321.52 396.23,316.85 396.83,310.08 397.42,303.15 397.93,299.61 398.52,297.35 399.16,295.58 399.71,293.16 399.98,279.47 400.4,260.14 400.94,231.14 401.3,196.02 401.63,231.14 402.18,260.14 402.73,276.25 403.14,285.11 403.22,303.63 403.28,312.33 403.69,316.2 404.29,318.13 405.2,319.42 406.57,320.07 408.28,320.39 409.08,320.82 409.87,321.04 410.66,321.53 411.46,320.16 412.25,321.87 413.04,320.95 413.84,320.22 414.63,321.84 415.42,320.97 416.22,320.89 417.01,322.04 417.8,321.43 418.6,320.84 419.39,321.37 420.18,320.88 420.98,321.36 422.35,321.03 423.72,320.55 424.54,320.07 425.09,319.75 425.64,320.71 426.46,322.64 427.29,324.9 427.97,326.51 428.66,327.48 428.93,327.6 428.93,327.6" fill="#bcbcbc" stroke="#262626" stroke-width="0.85" stroke-linejoin="round"/>
<line x1="401.3" y1="198.02" x2="401.3" y2="327.8" stroke="#444" stroke-width="0.7"/>
<rect x="375.7" y="188" width="140.5" height="139.6" fill="none" stroke="#666" stroke-width="1.3"/>
<line x1="375.7" y1="327.6" x2="516.2" y2="327.6" stroke="#222" stroke-width="1.4"/>
<line x1="371.4" y1="327.8" x2="375.7" y2="327.8" stroke="#444" stroke-width="1.0"/>
<text x="370" y="330.4" font-size="6.9" font-weight="normal" text-anchor="end" fill="#2b2b2b">0</text>
<line x1="374.5" y1="319.75" x2="375.7" y2="319.75" stroke="#333" stroke-width="1.0"/>
<line x1="374.5" y1="311.69" x2="375.7" y2="311.69" stroke="#333" stroke-width="1.0"/>
<line x1="374.5" y1="303.63" x2="375.7" y2="303.63" stroke="#333" stroke-width="1.0"/>
<line x1="371.4" y1="295.58" x2="375.7" y2="295.58" stroke="#444" stroke-width="1.0"/>
<text x="370" y="298.18" font-size="6.9" font-weight="normal" text-anchor="end" fill="#2b2b2b">200</text>
<line x1="374.5" y1="287.53" x2="375.7" y2="287.53" stroke="#333" stroke-width="1.0"/>
<line x1="374.5" y1="279.47" x2="375.7" y2="279.47" stroke="#333" stroke-width="1.0"/>
<line x1="374.5" y1="271.42" x2="375.7" y2="271.42" stroke="#333" stroke-width="1.0"/>
<line x1="371.4" y1="263.36" x2="375.7" y2="263.36" stroke="#444" stroke-width="1.0"/>
<text x="370" y="265.96" font-size="6.9" font-weight="normal" text-anchor="end" fill="#2b2b2b">400</text>
<line x1="374.5" y1="255.31" x2="375.7" y2="255.31" stroke="#333" stroke-width="1.0"/>
<line x1="374.5" y1="247.25" x2="375.7" y2="247.25" stroke="#333" stroke-width="1.0"/>
<line x1="374.5" y1="239.2" x2="375.7" y2="239.2" stroke="#333" stroke-width="1.0"/>
<line x1="371.4" y1="231.14" x2="375.7" y2="231.14" stroke="#444" stroke-width="1.0"/>
<text x="370" y="233.74" font-size="6.9" font-weight="normal" text-anchor="end" fill="#2b2b2b">600</text>
<line x1="374.5" y1="223.09" x2="375.7" y2="223.09" stroke="#333" stroke-width="1.0"/>
<line x1="374.5" y1="215.03" x2="375.7" y2="215.03" stroke="#333" stroke-width="1.0"/>
<line x1="374.5" y1="206.98" x2="375.7" y2="206.98" stroke="#333" stroke-width="1.0"/>
<line x1="371.4" y1="198.92" x2="375.7" y2="198.92" stroke="#444" stroke-width="1.0"/>
<text x="370" y="201.52" font-size="6.9" font-weight="normal" text-anchor="end" fill="#2b2b2b">800</text>
<line x1="374.5" y1="190.87" x2="375.7" y2="190.87" stroke="#333" stroke-width="1.0"/>
<line x1="375.7" y1="327.6" x2="375.7" y2="331.4" stroke="#444" stroke-width="1.0"/>
<text x="375.4" y="342.1" font-size="6.9" font-weight="normal" text-anchor="middle" fill="#2b2b2b">0</text>
<line x1="382.56" y1="327.6" x2="382.56" y2="328.9" stroke="#333" stroke-width="1.0"/>
<line x1="389.42" y1="327.6" x2="389.42" y2="328.9" stroke="#333" stroke-width="1.0"/>
<line x1="396.28" y1="327.6" x2="396.28" y2="328.9" stroke="#333" stroke-width="1.0"/>
<line x1="403.14" y1="327.6" x2="403.14" y2="331.4" stroke="#444" stroke-width="1.0"/>
<text x="402.84" y="342.1" font-size="6.9" font-weight="normal" text-anchor="middle" fill="#2b2b2b">200</text>
<line x1="410" y1="327.6" x2="410" y2="328.9" stroke="#333" stroke-width="1.0"/>
<line x1="416.86" y1="327.6" x2="416.86" y2="328.9" stroke="#333" stroke-width="1.0"/>
<line x1="423.72" y1="327.6" x2="423.72" y2="328.9" stroke="#333" stroke-width="1.0"/>
<line x1="430.58" y1="327.6" x2="430.58" y2="331.4" stroke="#444" stroke-width="1.0"/>
<text x="430.28" y="342.1" font-size="6.9" font-weight="normal" text-anchor="middle" fill="#2b2b2b">400</text>
<line x1="437.44" y1="327.6" x2="437.44" y2="328.9" stroke="#333" stroke-width="1.0"/>
<line x1="444.3" y1="327.6" x2="444.3" y2="328.9" stroke="#333" stroke-width="1.0"/>
<line x1="451.16" y1="327.6" x2="451.16" y2="328.9" stroke="#333" stroke-width="1.0"/>
<line x1="458.02" y1="327.6" x2="458.02" y2="331.4" stroke="#444" stroke-width="1.0"/>
<text x="457.72" y="342.1" font-size="6.9" font-weight="normal" text-anchor="middle" fill="#2b2b2b">600</text>
<line x1="464.88" y1="327.6" x2="464.88" y2="328.9" stroke="#333" stroke-width="1.0"/>
<line x1="471.74" y1="327.6" x2="471.74" y2="328.9" stroke="#333" stroke-width="1.0"/>
<line x1="478.6" y1="327.6" x2="478.6" y2="328.9" stroke="#333" stroke-width="1.0"/>
<line x1="485.46" y1="327.6" x2="485.46" y2="331.4" stroke="#444" stroke-width="1.0"/>
<text x="485.16" y="342.1" font-size="6.9" font-weight="normal" text-anchor="middle" fill="#2b2b2b">800</text>
<line x1="492.32" y1="327.6" x2="492.32" y2="328.9" stroke="#333" stroke-width="1.0"/>
<line x1="499.18" y1="327.6" x2="499.18" y2="328.9" stroke="#333" stroke-width="1.0"/>
<line x1="506.04" y1="327.6" x2="506.04" y2="328.9" stroke="#333" stroke-width="1.0"/>
<line x1="512.9" y1="327.6" x2="512.9" y2="331.4" stroke="#444" stroke-width="1.0"/>
<text x="512.6" y="342.1" font-size="6.9" font-weight="normal" text-anchor="middle" fill="#2b2b2b">1000</text>
<rect x="380.47" y="285.8" width="13.26" height="5.6" fill="#fff"/>
<rect x="396.57" y="279.8" width="13.26" height="5.6" fill="#fff"/>
<rect x="410.84" y="286.8" width="7.92" height="5.6" fill="#fff"/>
<rect x="424.55" y="280.7" width="9.7" height="5.6" fill="#fff"/>
<line x1="376.3" y1="294.5" x2="399.4" y2="294.5" stroke="#1a1a1a" stroke-width="1.4"/>
<line x1="376.3" y1="291.9" x2="376.3" y2="297.1" stroke="#1a1a1a" stroke-width="1.0"/>
<line x1="399.4" y1="291.9" x2="399.4" y2="297.1" stroke="#1a1a1a" stroke-width="1.0"/>
<text x="387.1" y="290.9" font-size="6.4" font-weight="normal" text-anchor="middle" fill="#2b2b2b">23.9</text>
<line x1="399.4" y1="288" x2="406.7" y2="288" stroke="#1a1a1a" stroke-width="1.4"/>
<line x1="399.4" y1="285.4" x2="399.4" y2="290.6" stroke="#1a1a1a" stroke-width="1.0"/>
<line x1="406.7" y1="285.4" x2="406.7" y2="290.6" stroke="#1a1a1a" stroke-width="1.0"/>
<text x="403.2" y="284.9" font-size="6.4" font-weight="normal" text-anchor="middle" fill="#2b2b2b">57.4</text>
<line x1="407.4" y1="295.2" x2="422.4" y2="295.2" stroke="#1a1a1a" stroke-width="1.4"/>
<line x1="407.4" y1="292.6" x2="407.4" y2="297.8" stroke="#1a1a1a" stroke-width="1.0"/>
<line x1="422.4" y1="292.6" x2="422.4" y2="297.8" stroke="#1a1a1a" stroke-width="1.0"/>
<text x="414.8" y="291.9" font-size="6.4" font-weight="normal" text-anchor="middle" fill="#2b2b2b">14</text>
<line x1="422.4" y1="288.9" x2="436" y2="288.9" stroke="#1a1a1a" stroke-width="1.4"/>
<line x1="422.4" y1="286.3" x2="422.4" y2="291.5" stroke="#1a1a1a" stroke-width="1.0"/>
<line x1="436" y1="286.3" x2="436" y2="291.5" stroke="#1a1a1a" stroke-width="1.0"/>
<text x="429.4" y="285.8" font-size="6.4" font-weight="normal" text-anchor="middle" fill="#2b2b2b">4.6</text>
<text x="511.3" y="198.6" font-size="9.9" font-weight="bold" text-anchor="end" fill="#000">800 μg/mL</text>
<text x="357.8" y="257.8" font-size="7" font-weight="normal" text-anchor="middle" fill="#2b2b2b" transform="rotate(-90 357.8 257.8)"># Cells</text>
<text x="445.95" y="348.4" font-size="6.6" font-weight="normal" text-anchor="middle" fill="#2b2b2b">PI</text>
<polygon points="26.8,515.1 26.8,514.79 27.81,514.79 28.81,514.62 29.82,514.2 30.82,514.61 31.83,514.52 32.84,514.38 33.84,514.74 34.85,514.35 35.85,514.18 36.86,513.96 37.87,514.62 38.87,514.35 39.88,514.52 40.88,513.73 41.89,513.8 42.9,513.5 44.53,514.11 46.31,514.96 47.21,512.58 48.08,509.52 49.1,506.64 49.85,505.79 50.6,505.28 51.3,498.99 51.19,466.03 51.76,447.34 52.58,420.16 53.6,384.14 54.49,420.16 55.44,447.34 56.13,466.03 56.19,489.81 56.33,496.61 56.81,500.52 57.63,502.05 58.31,502.9 59.54,505.11 60.7,506.64 61.48,507.61 62.26,503.72 63.05,503.74 63.83,504.96 64.62,505.07 65.4,506.89 66.19,507.42 66.97,505.28 67.75,507.14 68.54,506.56 69.32,506.3 70.11,507.12 70.89,505.3 71.68,500.52 72.36,501.71 73.18,502.9 73.86,499.67 74.54,497.12 75.63,493.21 76.59,488.97 77.5,486.08 78.22,491.51 78.9,498.99 79.72,505.11 80.41,509.52 80.95,513.26 81.31,515.1 81.31,515.1" fill="#bcbcbc" stroke="#262626" stroke-width="0.85" stroke-linejoin="round"/>
<line x1="53.6" y1="386.14" x2="53.6" y2="515.3" stroke="#444" stroke-width="0.7"/>
<rect x="26.8" y="377.4" width="141.3" height="137.7" fill="none" stroke="#666" stroke-width="1.3"/>
<line x1="26.8" y1="515.1" x2="168.1" y2="515.1" stroke="#222" stroke-width="1.4"/>
<line x1="22.5" y1="515.3" x2="26.8" y2="515.3" stroke="#444" stroke-width="1.0"/>
<text x="21.1" y="517.9" font-size="6.9" font-weight="normal" text-anchor="end" fill="#2b2b2b">0</text>
<line x1="25.6" y1="506.8" x2="26.8" y2="506.8" stroke="#333" stroke-width="1.0"/>
<line x1="25.6" y1="498.31" x2="26.8" y2="498.31" stroke="#333" stroke-width="1.0"/>
<line x1="25.6" y1="489.81" x2="26.8" y2="489.81" stroke="#333" stroke-width="1.0"/>
<line x1="22.5" y1="481.32" x2="26.8" y2="481.32" stroke="#444" stroke-width="1.0"/>
<text x="21.1" y="483.92" font-size="6.9" font-weight="normal" text-anchor="end" fill="#2b2b2b">200</text>
<line x1="25.6" y1="472.82" x2="26.8" y2="472.82" stroke="#333" stroke-width="1.0"/>
<line x1="25.6" y1="464.33" x2="26.8" y2="464.33" stroke="#333" stroke-width="1.0"/>
<line x1="25.6" y1="455.83" x2="26.8" y2="455.83" stroke="#333" stroke-width="1.0"/>
<line x1="22.5" y1="447.34" x2="26.8" y2="447.34" stroke="#444" stroke-width="1.0"/>
<text x="21.1" y="449.94" font-size="6.9" font-weight="normal" text-anchor="end" fill="#2b2b2b">400</text>
<line x1="25.6" y1="438.84" x2="26.8" y2="438.84" stroke="#333" stroke-width="1.0"/>
<line x1="25.6" y1="430.35" x2="26.8" y2="430.35" stroke="#333" stroke-width="1.0"/>
<line x1="25.6" y1="421.85" x2="26.8" y2="421.85" stroke="#333" stroke-width="1.0"/>
<line x1="22.5" y1="413.36" x2="26.8" y2="413.36" stroke="#444" stroke-width="1.0"/>
<text x="21.1" y="415.96" font-size="6.9" font-weight="normal" text-anchor="end" fill="#2b2b2b">600</text>
<line x1="25.6" y1="404.86" x2="26.8" y2="404.86" stroke="#333" stroke-width="1.0"/>
<line x1="25.6" y1="396.37" x2="26.8" y2="396.37" stroke="#333" stroke-width="1.0"/>
<line x1="25.6" y1="387.87" x2="26.8" y2="387.87" stroke="#333" stroke-width="1.0"/>
<text x="21.1" y="381.98" font-size="6.9" font-weight="normal" text-anchor="end" fill="#2b2b2b">800</text>
<line x1="26.8" y1="515.1" x2="26.8" y2="518.9" stroke="#444" stroke-width="1.0"/>
<text x="26.5" y="529.6" font-size="6.9" font-weight="normal" text-anchor="middle" fill="#2b2b2b">0</text>
<line x1="33.62" y1="515.1" x2="33.62" y2="516.4" stroke="#333" stroke-width="1.0"/>
<line x1="40.44" y1="515.1" x2="40.44" y2="516.4" stroke="#333" stroke-width="1.0"/>
<line x1="47.26" y1="515.1" x2="47.26" y2="516.4" stroke="#333" stroke-width="1.0"/>
<line x1="54.08" y1="515.1" x2="54.08" y2="518.9" stroke="#444" stroke-width="1.0"/>
<text x="53.78" y="529.6" font-size="6.9" font-weight="normal" text-anchor="middle" fill="#2b2b2b">200</text>
<line x1="60.9" y1="515.1" x2="60.9" y2="516.4" stroke="#333" stroke-width="1.0"/>
<line x1="67.72" y1="515.1" x2="67.72" y2="516.4" stroke="#333" stroke-width="1.0"/>
<line x1="74.54" y1="515.1" x2="74.54" y2="516.4" stroke="#333" stroke-width="1.0"/>
<line x1="81.36" y1="515.1" x2="81.36" y2="518.9" stroke="#444" stroke-width="1.0"/>
<text x="81.06" y="529.6" font-size="6.9" font-weight="normal" text-anchor="middle" fill="#2b2b2b">400</text>
<line x1="88.18" y1="515.1" x2="88.18" y2="516.4" stroke="#333" stroke-width="1.0"/>
<line x1="95" y1="515.1" x2="95" y2="516.4" stroke="#333" stroke-width="1.0"/>
<line x1="101.82" y1="515.1" x2="101.82" y2="516.4" stroke="#333" stroke-width="1.0"/>
<line x1="108.64" y1="515.1" x2="108.64" y2="518.9" stroke="#444" stroke-width="1.0"/>
<text x="108.34" y="529.6" font-size="6.9" font-weight="normal" text-anchor="middle" fill="#2b2b2b">600</text>
<line x1="115.46" y1="515.1" x2="115.46" y2="516.4" stroke="#333" stroke-width="1.0"/>
<line x1="122.28" y1="515.1" x2="122.28" y2="516.4" stroke="#333" stroke-width="1.0"/>
<line x1="129.1" y1="515.1" x2="129.1" y2="516.4" stroke="#333" stroke-width="1.0"/>
<line x1="135.92" y1="515.1" x2="135.92" y2="518.9" stroke="#444" stroke-width="1.0"/>
<text x="135.62" y="529.6" font-size="6.9" font-weight="normal" text-anchor="middle" fill="#2b2b2b">800</text>
<line x1="142.74" y1="515.1" x2="142.74" y2="516.4" stroke="#333" stroke-width="1.0"/>
<line x1="149.56" y1="515.1" x2="149.56" y2="516.4" stroke="#333" stroke-width="1.0"/>
<line x1="156.38" y1="515.1" x2="156.38" y2="516.4" stroke="#333" stroke-width="1.0"/>
<line x1="163.2" y1="515.1" x2="163.2" y2="518.9" stroke="#444" stroke-width="1.0"/>
<text x="162.9" y="529.6" font-size="6.9" font-weight="normal" text-anchor="middle" fill="#2b2b2b">1000</text>
<rect x="31.77" y="461.6" width="13.26" height="5.6" fill="#fff"/>
<rect x="47.57" y="457.3" width="13.26" height="5.6" fill="#fff"/>
<rect x="58.77" y="464.6" width="13.26" height="5.6" fill="#fff"/>
<rect x="72.87" y="457" width="13.26" height="5.6" fill="#fff"/>
<line x1="27.4" y1="470" x2="50.2" y2="470" stroke="#1a1a1a" stroke-width="1.4"/>
<line x1="27.4" y1="467.4" x2="27.4" y2="472.6" stroke="#1a1a1a" stroke-width="1.0"/>
<line x1="50.2" y1="467.4" x2="50.2" y2="472.6" stroke="#1a1a1a" stroke-width="1.0"/>
<text x="38.4" y="466.7" font-size="6.4" font-weight="normal" text-anchor="middle" fill="#2b2b2b">4.41</text>
<line x1="50.2" y1="465.3" x2="58" y2="465.3" stroke="#1a1a1a" stroke-width="1.4"/>
<line x1="50.2" y1="462.7" x2="50.2" y2="467.9" stroke="#1a1a1a" stroke-width="1.0"/>
<line x1="58" y1="462.7" x2="58" y2="467.9" stroke="#1a1a1a" stroke-width="1.0"/>
<text x="54.2" y="462.4" font-size="6.4" font-weight="normal" text-anchor="middle" fill="#2b2b2b">53.4</text>
<line x1="58" y1="473.1" x2="72.7" y2="473.1" stroke="#1a1a1a" stroke-width="1.4"/>
<line x1="58" y1="470.5" x2="58" y2="475.7" stroke="#1a1a1a" stroke-width="1.0"/>
<line x1="72.7" y1="470.5" x2="72.7" y2="475.7" stroke="#1a1a1a" stroke-width="1.0"/>
<text x="65.4" y="469.7" font-size="6.4" font-weight="normal" text-anchor="middle" fill="#2b2b2b">20.1</text>
<line x1="72.7" y1="465.3" x2="88.2" y2="465.3" stroke="#1a1a1a" stroke-width="1.4"/>
<line x1="72.7" y1="462.7" x2="72.7" y2="467.9" stroke="#1a1a1a" stroke-width="1.0"/>
<line x1="88.2" y1="462.7" x2="88.2" y2="467.9" stroke="#1a1a1a" stroke-width="1.0"/>
<text x="79.5" y="462.1" font-size="6.4" font-weight="normal" text-anchor="middle" fill="#2b2b2b">21.7</text>
<text x="163.2" y="388" font-size="9.9" font-weight="bold" text-anchor="end" fill="#000">0 μg/mL</text>
<text x="8.9" y="446.25" font-size="7" font-weight="normal" text-anchor="middle" fill="#2b2b2b" transform="rotate(-90 8.9 446.25)"># Cells</text>
<text x="97.45" y="535.9" font-size="6.6" font-weight="normal" text-anchor="middle" fill="#2b2b2b">Propidium Iodide</text>
<polygon points="203,514.7 203,514.5 204.05,514.6 205.1,514.09 206.15,514.07 207.2,513.86 208.24,514.61 209.29,514.54 210.34,514.62 211.39,514.51 212.44,513.9 213.49,514.58 214.54,514.1 215.59,514.45 216.63,514.34 217.68,514.16 218.73,513.67 219.78,513.92 220.83,514.59 221.88,514.01 222.56,512.52 223.11,510.53 224.07,508.04 225.02,506.22 225.98,505.56 226.94,505.06 227.49,500.92 228.1,469.96 228.72,445.45 229.27,415.64 229.68,382.52 230.09,415.64 230.77,445.45 231.91,469.96 232.55,485.19 233.1,494.96 233.64,500.1 234.4,503.08 235.28,503.41 236.24,503.74 237.47,506.22 238.7,505.06 240,504.4 241.17,505.06 242.4,505.89 243.77,506.89 244.45,504.73 245,503.08 245.96,505.06 246.91,504.4 248.14,503.41 249.38,502.25 250.33,501.75 251.25,501.26 252.25,496.78 253.21,491.82 254,487.51 254.71,493.47 255.6,501.26 256.35,506.72 256.9,510.36 257.5,513.18 258.5,514.7 258.5,514.7" fill="#bcbcbc" stroke="#262626" stroke-width="0.85" stroke-linejoin="round"/>
<line x1="229.68" y1="384.52" x2="229.68" y2="515" stroke="#444" stroke-width="0.7"/>
<rect x="203.2" y="375.3" width="140.8" height="139.4" fill="none" stroke="#666" stroke-width="1.3"/>
<line x1="203.2" y1="514.7" x2="344" y2="514.7" stroke="#222" stroke-width="1.4"/>
<line x1="198.9" y1="515" x2="203.2" y2="515" stroke="#444" stroke-width="1.0"/>
<text x="197.5" y="517.6" font-size="6.9" font-weight="normal" text-anchor="end" fill="#2b2b2b">0</text>
<line x1="202" y1="506.72" x2="203.2" y2="506.72" stroke="#333" stroke-width="1.0"/>
<line x1="202" y1="498.44" x2="203.2" y2="498.44" stroke="#333" stroke-width="1.0"/>
<line x1="202" y1="490.16" x2="203.2" y2="490.16" stroke="#333" stroke-width="1.0"/>
<line x1="198.9" y1="481.88" x2="203.2" y2="481.88" stroke="#444" stroke-width="1.0"/>
<text x="197.5" y="484.48" font-size="6.9" font-weight="normal" text-anchor="end" fill="#2b2b2b">200</text>
<line x1="202" y1="473.6" x2="203.2" y2="473.6" stroke="#333" stroke-width="1.0"/>
<line x1="202" y1="465.32" x2="203.2" y2="465.32" stroke="#333" stroke-width="1.0"/>
<line x1="202" y1="457.04" x2="203.2" y2="457.04" stroke="#333" stroke-width="1.0"/>
<line x1="198.9" y1="448.76" x2="203.2" y2="448.76" stroke="#444" stroke-width="1.0"/>
<text x="197.5" y="451.36" font-size="6.9" font-weight="normal" text-anchor="end" fill="#2b2b2b">400</text>
<line x1="202" y1="440.48" x2="203.2" y2="440.48" stroke="#333" stroke-width="1.0"/>
<line x1="202" y1="432.2" x2="203.2" y2="432.2" stroke="#333" stroke-width="1.0"/>
<line x1="202" y1="423.92" x2="203.2" y2="423.92" stroke="#333" stroke-width="1.0"/>
<line x1="198.9" y1="415.64" x2="203.2" y2="415.64" stroke="#444" stroke-width="1.0"/>
<text x="197.5" y="418.24" font-size="6.9" font-weight="normal" text-anchor="end" fill="#2b2b2b">600</text>
<line x1="202" y1="407.36" x2="203.2" y2="407.36" stroke="#333" stroke-width="1.0"/>
<line x1="202" y1="399.08" x2="203.2" y2="399.08" stroke="#333" stroke-width="1.0"/>
<line x1="202" y1="390.8" x2="203.2" y2="390.8" stroke="#333" stroke-width="1.0"/>
<line x1="198.9" y1="382.52" x2="203.2" y2="382.52" stroke="#444" stroke-width="1.0"/>
<text x="197.5" y="385.12" font-size="6.9" font-weight="normal" text-anchor="end" fill="#2b2b2b">800</text>
<line x1="203" y1="514.7" x2="203" y2="518.5" stroke="#444" stroke-width="1.0"/>
<text x="202.7" y="529.2" font-size="6.9" font-weight="normal" text-anchor="middle" fill="#2b2b2b">0</text>
<line x1="209.84" y1="514.7" x2="209.84" y2="516" stroke="#333" stroke-width="1.0"/>
<line x1="216.68" y1="514.7" x2="216.68" y2="516" stroke="#333" stroke-width="1.0"/>
<line x1="223.52" y1="514.7" x2="223.52" y2="516" stroke="#333" stroke-width="1.0"/>
<line x1="230.36" y1="514.7" x2="230.36" y2="518.5" stroke="#444" stroke-width="1.0"/>
<text x="230.06" y="529.2" font-size="6.9" font-weight="normal" text-anchor="middle" fill="#2b2b2b">200</text>
<line x1="237.2" y1="514.7" x2="237.2" y2="516" stroke="#333" stroke-width="1.0"/>
<line x1="244.04" y1="514.7" x2="244.04" y2="516" stroke="#333" stroke-width="1.0"/>
<line x1="250.88" y1="514.7" x2="250.88" y2="516" stroke="#333" stroke-width="1.0"/>
<line x1="257.72" y1="514.7" x2="257.72" y2="518.5" stroke="#444" stroke-width="1.0"/>
<text x="257.42" y="529.2" font-size="6.9" font-weight="normal" text-anchor="middle" fill="#2b2b2b">400</text>
<line x1="264.56" y1="514.7" x2="264.56" y2="516" stroke="#333" stroke-width="1.0"/>
<line x1="271.4" y1="514.7" x2="271.4" y2="516" stroke="#333" stroke-width="1.0"/>
<line x1="278.24" y1="514.7" x2="278.24" y2="516" stroke="#333" stroke-width="1.0"/>
<line x1="285.08" y1="514.7" x2="285.08" y2="518.5" stroke="#444" stroke-width="1.0"/>
<text x="284.78" y="529.2" font-size="6.9" font-weight="normal" text-anchor="middle" fill="#2b2b2b">600</text>
<line x1="291.92" y1="514.7" x2="291.92" y2="516" stroke="#333" stroke-width="1.0"/>
<line x1="298.76" y1="514.7" x2="298.76" y2="516" stroke="#333" stroke-width="1.0"/>
<line x1="305.6" y1="514.7" x2="305.6" y2="516" stroke="#333" stroke-width="1.0"/>
<line x1="312.44" y1="514.7" x2="312.44" y2="518.5" stroke="#444" stroke-width="1.0"/>
<text x="312.14" y="529.2" font-size="6.9" font-weight="normal" text-anchor="middle" fill="#2b2b2b">800</text>
<line x1="319.28" y1="514.7" x2="319.28" y2="516" stroke="#333" stroke-width="1.0"/>
<line x1="326.12" y1="514.7" x2="326.12" y2="516" stroke="#333" stroke-width="1.0"/>
<line x1="332.96" y1="514.7" x2="332.96" y2="516" stroke="#333" stroke-width="1.0"/>
<line x1="339.8" y1="514.7" x2="339.8" y2="518.5" stroke="#444" stroke-width="1.0"/>
<text x="339.5" y="529.2" font-size="6.9" font-weight="normal" text-anchor="middle" fill="#2b2b2b">1000</text>
<rect x="207.97" y="460.8" width="13.26" height="5.6" fill="#fff"/>
<rect x="223.07" y="456.4" width="13.26" height="5.6" fill="#fff"/>
<rect x="237.34" y="463.4" width="7.92" height="5.6" fill="#fff"/>
<rect x="249.87" y="456" width="13.26" height="5.6" fill="#fff"/>
<line x1="203.8" y1="469.6" x2="226.7" y2="469.6" stroke="#1a1a1a" stroke-width="1.4"/>
<line x1="203.8" y1="467" x2="203.8" y2="472.2" stroke="#1a1a1a" stroke-width="1.0"/>
<line x1="226.7" y1="467" x2="226.7" y2="472.2" stroke="#1a1a1a" stroke-width="1.0"/>
<text x="214.6" y="465.9" font-size="6.4" font-weight="normal" text-anchor="middle" fill="#2b2b2b">4.53</text>
<line x1="226.7" y1="465" x2="234.4" y2="465" stroke="#1a1a1a" stroke-width="1.4"/>
<line x1="226.7" y1="462.4" x2="226.7" y2="467.6" stroke="#1a1a1a" stroke-width="1.0"/>
<line x1="234.4" y1="462.4" x2="234.4" y2="467.6" stroke="#1a1a1a" stroke-width="1.0"/>
<text x="229.7" y="461.5" font-size="6.4" font-weight="normal" text-anchor="middle" fill="#2b2b2b">54.9</text>
<line x1="234.4" y1="471.9" x2="248.8" y2="471.9" stroke="#1a1a1a" stroke-width="1.4"/>
<line x1="234.4" y1="469.3" x2="234.4" y2="474.5" stroke="#1a1a1a" stroke-width="1.0"/>
<line x1="248.8" y1="469.3" x2="248.8" y2="474.5" stroke="#1a1a1a" stroke-width="1.0"/>
<text x="241.3" y="468.5" font-size="6.4" font-weight="normal" text-anchor="middle" fill="#2b2b2b">20</text>
<line x1="248.8" y1="464.6" x2="264.3" y2="464.6" stroke="#1a1a1a" stroke-width="1.4"/>
<line x1="248.8" y1="462" x2="248.8" y2="467.2" stroke="#1a1a1a" stroke-width="1.0"/>
<line x1="264.3" y1="462" x2="264.3" y2="467.2" stroke="#1a1a1a" stroke-width="1.0"/>
<text x="256.5" y="461.1" font-size="6.4" font-weight="normal" text-anchor="middle" fill="#2b2b2b">20.4</text>
<text x="339.1" y="385.9" font-size="9.9" font-weight="bold" text-anchor="end" fill="#000">250 μg/mL</text>
<text x="185.3" y="445" font-size="7" font-weight="normal" text-anchor="middle" fill="#2b2b2b" transform="rotate(-90 185.3 445)"># Cells</text>
<text x="273.6" y="535.5" font-size="6.6" font-weight="normal" text-anchor="middle" fill="#2b2b2b">Propidium Iodide</text>
<polygon points="375.5,514.8 375.5,514.8 376.88,514.73 378.25,514.8 379.49,514.46 379.91,510.45 380.5,506.17 381.28,507.77 382.61,509.91 383.49,511.52 384.51,512.59 385.69,513.12 387,513.39 388.17,513.93 389.27,513.39 390.74,513.66 392.02,513.12 393.26,513.12 394.23,512.32 395.09,511.25 395.74,509.65 396.4,507.51 396.98,504.56 397.6,501.35 398.08,497.07 398.61,492.53 399.25,482.63 399.6,470.32 400.01,448.92 400.42,427.52 400.84,403.45 401.39,382.85 401.87,403.45 402.35,427.52 402.76,448.92 403.18,470.32 403.59,479.69 403.87,481.29 404.75,494.93 405.52,503.76 406.48,505.63 407.58,506.97 408.55,507.77 409.65,506.44 410.75,506.97 411.85,508.04 412.95,508.58 413.92,509.65 414.88,508.31 415.85,508.84 416.95,507.51 418.19,508.04 419.5,506.97 420.67,505.1 422,503.76 423.01,502.42 423.97,501.09 425.07,500.02 425.9,502.96 427,507.51 427.96,510.98 428.9,513.12 430,514.73 430.3,514.8 430.3,514.8" fill="#bcbcbc" stroke="#262626" stroke-width="0.85" stroke-linejoin="round"/>
<line x1="401.39" y1="384.85" x2="401.39" y2="515.8" stroke="#444" stroke-width="0.7"/>
<rect x="375.5" y="375.3" width="140.8" height="139.5" fill="none" stroke="#666" stroke-width="1.3"/>
<line x1="375.5" y1="514.8" x2="516.3" y2="514.8" stroke="#222" stroke-width="1.4"/>
<line x1="371.2" y1="515.8" x2="375.5" y2="515.8" stroke="#444" stroke-width="1.0"/>
<text x="369.8" y="518.4" font-size="6.9" font-weight="normal" text-anchor="end" fill="#2b2b2b">0</text>
<line x1="374.3" y1="509.11" x2="375.5" y2="509.11" stroke="#333" stroke-width="1.0"/>
<line x1="374.3" y1="502.42" x2="375.5" y2="502.42" stroke="#333" stroke-width="1.0"/>
<line x1="374.3" y1="495.74" x2="375.5" y2="495.74" stroke="#333" stroke-width="1.0"/>
<line x1="371.2" y1="489.05" x2="375.5" y2="489.05" stroke="#444" stroke-width="1.0"/>
<text x="369.8" y="491.65" font-size="6.9" font-weight="normal" text-anchor="end" fill="#2b2b2b">100</text>
<line x1="374.3" y1="482.36" x2="375.5" y2="482.36" stroke="#333" stroke-width="1.0"/>
<line x1="374.3" y1="475.67" x2="375.5" y2="475.67" stroke="#333" stroke-width="1.0"/>
<line x1="374.3" y1="468.99" x2="375.5" y2="468.99" stroke="#333" stroke-width="1.0"/>
<line x1="371.2" y1="462.3" x2="375.5" y2="462.3" stroke="#444" stroke-width="1.0"/>
<text x="369.8" y="464.9" font-size="6.9" font-weight="normal" text-anchor="end" fill="#2b2b2b">200</text>
<line x1="374.3" y1="455.61" x2="375.5" y2="455.61" stroke="#333" stroke-width="1.0"/>
<line x1="374.3" y1="448.92" x2="375.5" y2="448.92" stroke="#333" stroke-width="1.0"/>
<line x1="374.3" y1="442.24" x2="375.5" y2="442.24" stroke="#333" stroke-width="1.0"/>
<line x1="371.2" y1="435.55" x2="375.5" y2="435.55" stroke="#444" stroke-width="1.0"/>
<text x="369.8" y="438.15" font-size="6.9" font-weight="normal" text-anchor="end" fill="#2b2b2b">300</text>
<line x1="374.3" y1="428.86" x2="375.5" y2="428.86" stroke="#333" stroke-width="1.0"/>
<line x1="374.3" y1="422.17" x2="375.5" y2="422.17" stroke="#333" stroke-width="1.0"/>
<line x1="374.3" y1="415.49" x2="375.5" y2="415.49" stroke="#333" stroke-width="1.0"/>
<line x1="371.2" y1="408.8" x2="375.5" y2="408.8" stroke="#444" stroke-width="1.0"/>
<text x="369.8" y="411.4" font-size="6.9" font-weight="normal" text-anchor="end" fill="#2b2b2b">400</text>
<line x1="374.3" y1="402.11" x2="375.5" y2="402.11" stroke="#333" stroke-width="1.0"/>
<line x1="374.3" y1="395.42" x2="375.5" y2="395.42" stroke="#333" stroke-width="1.0"/>
<line x1="374.3" y1="388.74" x2="375.5" y2="388.74" stroke="#333" stroke-width="1.0"/>
<line x1="371.2" y1="382.05" x2="375.5" y2="382.05" stroke="#444" stroke-width="1.0"/>
<text x="369.8" y="384.65" font-size="6.9" font-weight="normal" text-anchor="end" fill="#2b2b2b">500</text>
<line x1="375.5" y1="514.8" x2="375.5" y2="518.6" stroke="#444" stroke-width="1.0"/>
<text x="375.2" y="529.3" font-size="6.9" font-weight="normal" text-anchor="middle" fill="#2b2b2b">0</text>
<line x1="382.38" y1="514.8" x2="382.38" y2="516.1" stroke="#333" stroke-width="1.0"/>
<line x1="389.27" y1="514.8" x2="389.27" y2="516.1" stroke="#333" stroke-width="1.0"/>
<line x1="396.15" y1="514.8" x2="396.15" y2="516.1" stroke="#333" stroke-width="1.0"/>
<line x1="403.04" y1="514.8" x2="403.04" y2="518.6" stroke="#444" stroke-width="1.0"/>
<text x="402.74" y="529.3" font-size="6.9" font-weight="normal" text-anchor="middle" fill="#2b2b2b">200</text>
<line x1="409.93" y1="514.8" x2="409.93" y2="516.1" stroke="#333" stroke-width="1.0"/>
<line x1="416.81" y1="514.8" x2="416.81" y2="516.1" stroke="#333" stroke-width="1.0"/>
<line x1="423.69" y1="514.8" x2="423.69" y2="516.1" stroke="#333" stroke-width="1.0"/>
<line x1="430.58" y1="514.8" x2="430.58" y2="518.6" stroke="#444" stroke-width="1.0"/>
<text x="430.28" y="529.3" font-size="6.9" font-weight="normal" text-anchor="middle" fill="#2b2b2b">400</text>
<line x1="437.46" y1="514.8" x2="437.46" y2="516.1" stroke="#333" stroke-width="1.0"/>
<line x1="444.35" y1="514.8" x2="444.35" y2="516.1" stroke="#333" stroke-width="1.0"/>
<line x1="451.24" y1="514.8" x2="451.24" y2="516.1" stroke="#333" stroke-width="1.0"/>
<line x1="458.12" y1="514.8" x2="458.12" y2="518.6" stroke="#444" stroke-width="1.0"/>
<text x="457.82" y="529.3" font-size="6.9" font-weight="normal" text-anchor="middle" fill="#2b2b2b">600</text>
<line x1="465" y1="514.8" x2="465" y2="516.1" stroke="#333" stroke-width="1.0"/>
<line x1="471.89" y1="514.8" x2="471.89" y2="516.1" stroke="#333" stroke-width="1.0"/>
<line x1="478.77" y1="514.8" x2="478.77" y2="516.1" stroke="#333" stroke-width="1.0"/>
<line x1="485.66" y1="514.8" x2="485.66" y2="518.6" stroke="#444" stroke-width="1.0"/>
<text x="485.36" y="529.3" font-size="6.9" font-weight="normal" text-anchor="middle" fill="#2b2b2b">800</text>
<line x1="492.54" y1="514.8" x2="492.54" y2="516.1" stroke="#333" stroke-width="1.0"/>
<line x1="499.43" y1="514.8" x2="499.43" y2="516.1" stroke="#333" stroke-width="1.0"/>
<line x1="506.31" y1="514.8" x2="506.31" y2="516.1" stroke="#333" stroke-width="1.0"/>
<line x1="513.2" y1="514.8" x2="513.2" y2="518.6" stroke="#444" stroke-width="1.0"/>
<text x="512.9" y="529.3" font-size="6.9" font-weight="normal" text-anchor="middle" fill="#2b2b2b">1000</text>
<rect x="380.97" y="461.1" width="13.26" height="5.6" fill="#fff"/>
<rect x="398.64" y="456.4" width="7.92" height="5.6" fill="#fff"/>
<rect x="407.57" y="463.4" width="13.26" height="5.6" fill="#fff"/>
<rect x="421.97" y="455.9" width="13.26" height="5.6" fill="#fff"/>
<line x1="376.1" y1="469.6" x2="398.8" y2="469.6" stroke="#1a1a1a" stroke-width="1.4"/>
<line x1="376.1" y1="467" x2="376.1" y2="472.2" stroke="#1a1a1a" stroke-width="1.0"/>
<line x1="398.8" y1="467" x2="398.8" y2="472.2" stroke="#1a1a1a" stroke-width="1.0"/>
<text x="387.6" y="466.2" font-size="6.4" font-weight="normal" text-anchor="middle" fill="#2b2b2b">10.8</text>
<line x1="398.8" y1="464.8" x2="406.6" y2="464.8" stroke="#1a1a1a" stroke-width="1.4"/>
<line x1="398.8" y1="462.2" x2="398.8" y2="467.4" stroke="#1a1a1a" stroke-width="1.0"/>
<line x1="406.6" y1="462.2" x2="406.6" y2="467.4" stroke="#1a1a1a" stroke-width="1.0"/>
<text x="402.6" y="461.5" font-size="6.4" font-weight="normal" text-anchor="middle" fill="#2b2b2b">62</text>
<line x1="407.5" y1="471.9" x2="421.2" y2="471.9" stroke="#1a1a1a" stroke-width="1.4"/>
<line x1="407.5" y1="469.3" x2="407.5" y2="474.5" stroke="#1a1a1a" stroke-width="1.0"/>
<line x1="421.2" y1="469.3" x2="421.2" y2="474.5" stroke="#1a1a1a" stroke-width="1.0"/>
<text x="414.2" y="468.5" font-size="6.4" font-weight="normal" text-anchor="middle" fill="#2b2b2b">13.7</text>
<line x1="421.2" y1="464.9" x2="436.4" y2="464.9" stroke="#1a1a1a" stroke-width="1.4"/>
<line x1="421.2" y1="462.3" x2="421.2" y2="467.5" stroke="#1a1a1a" stroke-width="1.0"/>
<line x1="436.4" y1="462.3" x2="436.4" y2="467.5" stroke="#1a1a1a" stroke-width="1.0"/>
<text x="428.6" y="461" font-size="6.4" font-weight="normal" text-anchor="middle" fill="#2b2b2b">13.1</text>
<text x="511.4" y="385.9" font-size="9.9" font-weight="bold" text-anchor="end" fill="#000">800 μg/mL</text>
<text x="357.6" y="445.05" font-size="7" font-weight="normal" text-anchor="middle" fill="#2b2b2b" transform="rotate(-90 357.6 445.05)"># Cells</text>
<text x="445.9" y="535.6" font-size="6.6" font-weight="normal" text-anchor="middle" fill="#2b2b2b">Propidium Iodide</text>
<text x="0.7" y="185.2" font-size="10.5" font-weight="bold" text-anchor="start" fill="#000">C</text>
<text x="0.8" y="371.4" font-size="10.6" font-weight="bold" text-anchor="start" fill="#000">D</text>
</svg>
</body></html>
